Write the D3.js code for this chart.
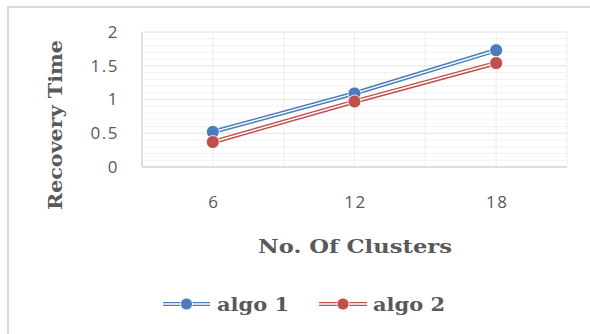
<!DOCTYPE html>
<html>
<head>
<meta charset="utf-8">
<script src="https://cdn.jsdelivr.net/npm/d3@7"></script>
<style>
  body { margin: 0; background: #fff; }
  svg { display: block; }
</style>
</head>
<body>
<svg width="590" height="334"></svg>
<script>
"use strict";

const clusters = [6, 12, 18];
const algo1 = [0.52, 1.09, 1.73];
const algo2 = [0.37, 0.97, 1.54];
const seriesNames = ["algo 1", "algo 2"];
const seriesColors = ["#4a7ebb", "#c0504d"];
const yTicks = [0, 0.5, 1, 1.5, 2];

const plotLeft = 142, plotRight = 567, plotTop = 32, plotBottom = 167;

const svg = d3.select("svg");

// outer chart border (runs off the right and bottom of the picture)
svg.append("rect")
    .attr("x", 8).attr("y", 7)
    .attr("width", 600).attr("height", 340)
    .attr("fill", "#fff")
    .attr("stroke", "#d9d9d9")
    .attr("stroke-width", 2);

const x = d3.scaleLinear().domain([3, 21]).range([plotLeft, plotRight]);
const y = d3.scaleLinear().domain([0, 2]).range([plotBottom, plotTop]);

// minor horizontal gridlines
svg.append("g").selectAll("line")
    .data(d3.range(0, 21).map(i => i / 10))
    .join("line")
    .attr("x1", plotLeft).attr("x2", plotRight)
    .attr("y1", d => y(d)).attr("y2", d => y(d))
    .attr("stroke", "#f2f2f2")
    .attr("stroke-width", 1);

// major gridlines
svg.append("g").selectAll("line")
    .data(yTicks)
    .join("line")
    .attr("x1", plotLeft).attr("x2", plotRight)
    .attr("y1", d => y(d)).attr("y2", d => y(d))
    .attr("stroke", "#e6e6e6")
    .attr("stroke-width", 1);

svg.append("g").selectAll("line")
    .data(d3.range(3, 22, 3))
    .join("line")
    .attr("x1", d => x(d)).attr("x2", d => x(d))
    .attr("y1", plotTop).attr("y2", plotBottom)
    .attr("stroke", "#ececec")
    .attr("stroke-width", 1);

// plot area edges
svg.append("line")
    .attr("x1", plotLeft).attr("x2", plotRight)
    .attr("y1", plotBottom).attr("y2", plotBottom)
    .attr("stroke", "#d9d9d9").attr("stroke-width", 1.5);
svg.append("line")
    .attr("x1", plotLeft).attr("x2", plotLeft)
    .attr("y1", plotTop).attr("y2", plotBottom)
    .attr("stroke", "#d9d9d9").attr("stroke-width", 1.5);

// y tick labels
svg.append("g").selectAll("text")
    .data(yTicks)
    .join("text")
    .attr("x", 119)
    .attr("y", d => y(d))
    .attr("dy", "0.35em")
    .attr("text-anchor", "end")
    .attr("font-family", "'Open Sans', sans-serif")
    .attr("font-size", 17)
    .attr("letter-spacing", 1.5)
    .attr("fill", "#595959")
    .text(d => d);

// x tick labels
svg.append("g").selectAll("text")
    .data(clusters)
    .join("text")
    .attr("x", d => x(d) + 1)
    .attr("y", 202)
    .attr("dy", "0.35em")
    .attr("text-anchor", "middle")
    .attr("font-family", "'Open Sans', sans-serif")
    .attr("font-size", 17)
    .attr("letter-spacing", 1.5)
    .attr("fill", "#595959")
    .text(d => d);

// axis titles
const titleFont = "'DejaVu Serif', serif";
svg.append("text")
    .attr("transform", "translate(62,125) rotate(-90)")
    .attr("text-anchor", "middle")
    .attr("font-family", titleFont)
    .attr("font-weight", "bold")
    .attr("font-size", 19)
    .attr("fill", "#595959")
    .attr("textLength", 170)
    .attr("lengthAdjust", "spacingAndGlyphs")
    .text("Recovery Time");

svg.append("text")
    .attr("x", 355).attr("y", 246)
    .attr("dy", "0.35em")
    .attr("text-anchor", "middle")
    .attr("font-family", titleFont)
    .attr("font-weight", "bold")
    .attr("font-size", 19)
    .attr("fill", "#595959")
    .attr("textLength", 194)
    .attr("lengthAdjust", "spacingAndGlyphs")
    .text("No. Of Clusters");

// series: double (compound) line plus round markers
const line = d3.line().x((d, i) => x(clusters[i])).y(d => y(d));
const allSeries = [algo1, algo2];

allSeries.forEach((vals, s) => {
    const g = svg.append("g");
    g.append("path")
        .attr("d", line(vals))
        .attr("fill", "none")
        .attr("stroke", seriesColors[s])
        .attr("stroke-width", 4.4);
    g.append("path")
        .attr("d", line(vals))
        .attr("fill", "none")
        .attr("stroke", "#fff")
        .attr("stroke-width", 1.4);
    g.selectAll("circle")
        .data(vals)
        .join("circle")
        .attr("cx", (d, i) => x(clusters[i]))
        .attr("cy", d => y(d))
        .attr("r", 6.5)
        .attr("fill", seriesColors[s])
        .attr("stroke", "#fff")
        .attr("stroke-width", 0.8);
});

// legend
const legendItems = [
    { name: seriesNames[0], color: seriesColors[0], x0: 163, x1: 210, tx: 217 },
    { name: seriesNames[1], color: seriesColors[1], x0: 319, x1: 367, tx: 373 }
];
const legY = 304;
legendItems.forEach(item => {
    const g = svg.append("g");
    g.append("line")
        .attr("x1", item.x0).attr("x2", item.x1)
        .attr("y1", legY).attr("y2", legY)
        .attr("stroke", item.color).attr("stroke-width", 4.2);
    g.append("line")
        .attr("x1", item.x0).attr("x2", item.x1)
        .attr("y1", legY).attr("y2", legY)
        .attr("stroke", "#fff").attr("stroke-width", 1.3);
    g.append("circle")
        .attr("cx", (item.x0 + item.x1) / 2).attr("cy", legY)
        .attr("r", 6)
        .attr("fill", item.color)
        .attr("stroke", "#fff").attr("stroke-width", 0.8);
    g.append("text")
        .attr("x", item.tx).attr("y", legY)
        .attr("dy", "0.35em")
        .attr("font-family", titleFont)
        .attr("font-weight", "bold")
        .attr("font-size", 19)
        .attr("fill", "#595959")
        .attr("textLength", 72)
        .attr("lengthAdjust", "spacingAndGlyphs")
        .text(item.name);
});
</script>
</body>
</html>
